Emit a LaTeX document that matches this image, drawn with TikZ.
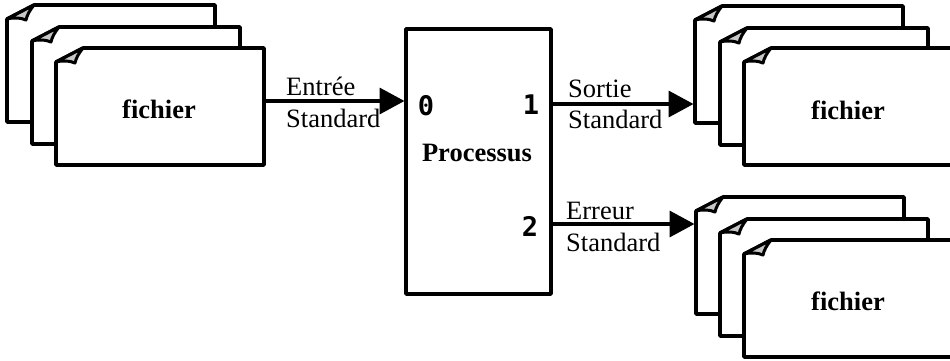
\documentclass[tikz,border=0pt]{standalone}
\usepackage{fontspec}
\setmainfont{Liberation Serif}
\newfontfamily\digitfont[BoldFont={DejaVu Sans Mono Bold}]{DejaVu Sans Mono}
\usetikzlibrary{arrows.meta}
\begin{document}
\begin{tikzpicture}
[x=1pt,y=-1pt,line join=round,
 sheettext/.style={anchor=base,inner sep=0pt,font=\fontsize{26.5}{30}\selectfont\bfseries},
 sheetbox/.style={minimum width=208pt,minimum height=117pt,inner sep=0pt,anchor=north west},
 sheetline/.style={draw=black,fill=white,line width=3.6pt},
 foldline/.style={draw=black,fill=black!22,line width=3pt},
 flowline/.style={line width=3.6pt,-{Triangle[length=25pt,width=26pt]}},
 flowtext/.style={anchor=base west,inner sep=0pt,font=\fontsize{26.5}{30}\selectfont},
 porttext/.style={inner sep=0pt,font=\fontsize{27}{30}\selectfont\digitfont\bfseries}]
\useasboundingbox (0,0) rectangle (950,360);
%% the three stacks of sheets, each one back to front
\foreach \stack/\xa/\ya/\xb/\yb/\xc/\yc/\xt/\yt in {in/7/5/32/27/56/48/159/118,
  sortie/695/6/720/28/744/48/848/119, erreur/696/197/720/219/744/240/848/310} {
  \foreach \num/\x/\y in {1/\xa/\ya, 2/\xb/\yb, 3/\xc/\yc} {
    \node[sheetbox] (\stack\num) at (\x,\y) {};
    \draw[sheetline] (\x,\y+14) -- (\x+27,\y) -- (\x+208,\y) -- (\x+208,\y+117)
      -- (\x,\y+117) -- cycle;
    \draw[foldline] (\x,\y+14) .. controls (\x+8,\y+12) and (\x+14,\y+13) .. (\x+19,\y+15)
      .. controls (\x+20,\y+10) and (\x+23,\y+5) .. (\x+27,\y) -- cycle;
  }
  \node[sheettext] (\stack label) at (\xt,\yt) {fichier};
}
%% the process
\node[draw,line width=3.6pt,outer sep=0pt,minimum width=145pt,minimum height=265pt,inner sep=0pt,
  anchor=north west] (proc) at (406,29) {};
\node[inner sep=0pt,anchor=base,font=\fontsize{26.5}{30}\selectfont\bfseries] (title)
  at (477,161) {Processus};
\node[porttext] (port0) at (426,106) {0};
\node[porttext] (port1) at (531,105) {1};
\node[porttext] (port2) at (530,226) {2};
%% the three streams
\coordinate (entree) at (404.5,101);
\coordinate (sortie) at (693.5,104);
\coordinate (erreur) at (694.5,224);
\draw[flowline] (in3.east |- entree) -- (entree);
\draw[flowline] (proc.east |- sortie) -- (sortie);
\draw[flowline] (proc.east |- erreur) -- (erreur);
\foreach \name/\x/\ya/\tb/\yb in {Entrée/286/95/a/127, Sortie/568/97/b/128, Erreur/566/219/c/251} {
  \node[flowtext] (name\tb) at (\x,\ya) {\name};
  \node[flowtext] (std\tb) at (\x,\yb) {Standard};
}
\end{tikzpicture}
\end{document}
